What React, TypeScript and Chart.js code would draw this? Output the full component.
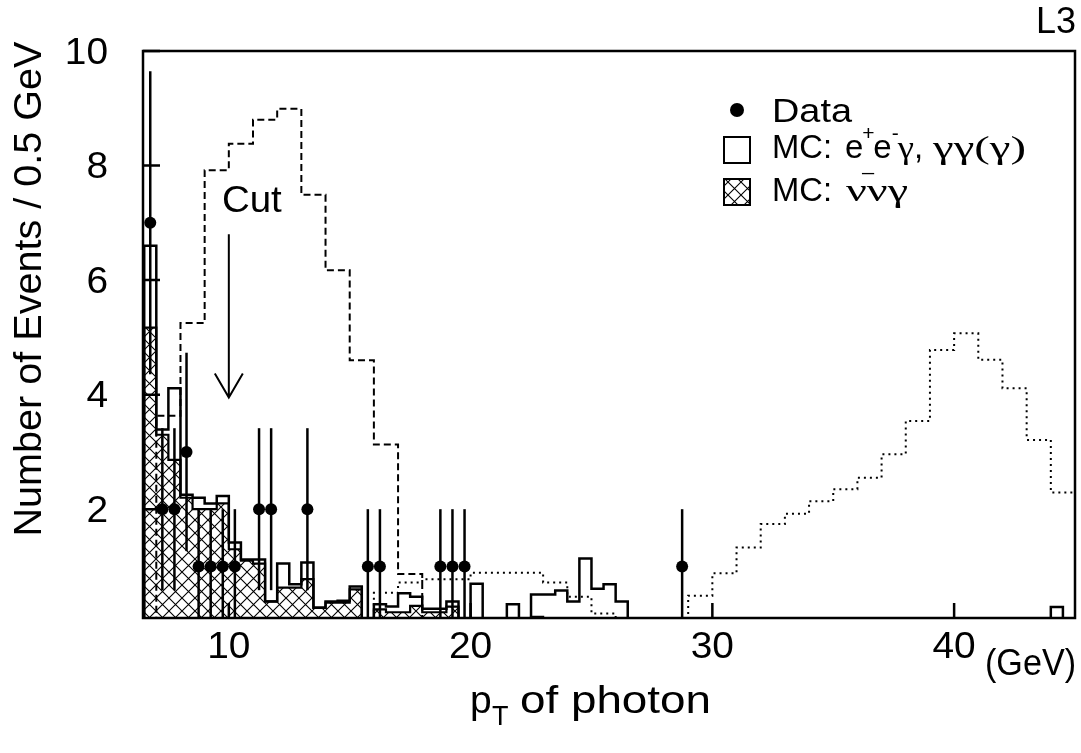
import React, { useEffect, useRef } from "react";
import { Chart, registerables } from "chart.js";

Chart.register(...registerables);

// ---------------- data ----------------
const X_MIN = 6.45;
const X_MAX = 45;
const Y_MIN = 0.1;
const Y_MAX = 10;

const xTickValues = [10, 20, 30, 40];
const yTickValues = [2, 4, 6, 8, 10];

// 0.5 GeV binning starting at 6.5 GeV
const fineStart = 6.5;
const fineWidth = 0.5;
// MC nu nu gamma (hatched)
const mcNuNuGamma = [
  5.17, 3.3, 2.86, 2.2, 2.0, 2.0, 2.1, 1.3, 1.1, 1.05,
  0.39, 0.63, 0.63, 0.78, 0.28, 0.37, 0.37, 0.6, 0, 0.25,
  0.2, 0.2, 0.31, 0.2, 0.2, 0.3, 0, 0, 0, 0,
  0, 0, 0.12, 0, 0, 0, 0, 0, 0, 0,
];
// MC e+e-gamma, gamma gamma(gamma) stacked on nu nu gamma (open)
const mcTotal = [
  6.6, 3.39, 4.11, 2.25, 2.2, 2.1, 2.23, 1.42, 1.12, 1.12,
  0.39, 1.05, 0.69, 1.07, 0.28, 0.39, 0.4, 0.65, 0, 0.34,
  0.3, 0.53, 0.47, 0.26, 0.26, 0.39, 0, 0.7, 0, 0,
  0.34, 0, 0.51, 0.51, 0.58, 0.39, 1.14, 0.61, 0.69, 0.39,
  0, 0, 0, 0, 0, 0, 0, 0, 0, 0,
  0, 0, 0, 0, 0, 0, 0, 0, 0, 0,
  0, 0, 0, 0, 0, 0, 0, 0, 0, 0,
  0, 0, 0, 0, 0, 0.29, 0,
];

// 1 GeV binning
const coarseWidth = 1;
const dashedStart = 7;
const dashedValues = [3.63, 5.25, 7.92, 8.38, 8.8, 8.99, 7.49, 6.17, 4.6, 3.13, 0.87];
const dottedStart = 16;
const dottedValues = [
  0.54, 0.72, 0.775, 0.775, 0.89, 0.89, 0.89, 0.72, 0.47, 0.18,
  0, 0, 0, 0.49, 0.88, 1.33, 1.74, 1.92, 2.14, 2.35,
  2.55, 2.96, 3.54, 4.78, 5.07, 4.61, 4.11, 3.21, 2.29,
];

// data points
const dataX = [6.75, 7.25, 7.75, 8.25, 8.75, 9.25, 9.75, 10.25, 11.25, 11.75, 13.25, 15.75, 16.25, 18.75, 19.25, 19.75, 28.75];
const dataN = [7, 2, 2, 3, 1, 1, 1, 1, 2, 2, 2, 1, 1, 1, 1, 1, 1];

const cutValue = 10;
const cutArrowTop = 6.8;
const cutArrowTip = 3.95;

// ---------------- helpers ----------------
const SANS = "'Liberation Sans', Arial, Helvetica, sans-serif";
const SERIF = "'Liberation Serif', 'Times New Roman', serif";

function histPoints(start: number, width: number, values: number[]) {
  const pts: { x: number; y: number }[] = [{ x: start, y: 0 }];
  values.forEach((v, i) => pts.push({ x: start + i * width, y: v }));
  pts.push({ x: start + values.length * width, y: 0 });
  return pts;
}

function makeHatch(): CanvasPattern | string {
  const p = 13;
  const c = document.createElement("canvas");
  c.width = p;
  c.height = p;
  const g = c.getContext("2d");
  if (!g) return "rgba(0,0,0,0.3)";
  g.fillStyle = "#fff";
  g.fillRect(0, 0, p, p);
  g.strokeStyle = "#000";
  g.lineWidth = 1.1;
  g.beginPath();
  g.moveTo(-2, -2);
  g.lineTo(p + 2, p + 2);
  g.moveTo(p + 2, -2);
  g.lineTo(-2, p + 2);
  g.stroke();
  const pat = g.createPattern(c, "repeat");
  return pat || "rgba(0,0,0,0.3)";
}

function txt(
  ctx: CanvasRenderingContext2D,
  s: string,
  x: number,
  y: number,
  font: string,
  align: "left" | "center" | "right",
  sx = 1,
  fitWidth = 0
) {
  ctx.save();
  ctx.font = font;
  ctx.textBaseline = "alphabetic";
  ctx.textAlign = "left";
  const raw = ctx.measureText(s).width;
  const k = fitWidth > 0 ? fitWidth / raw : sx;
  const w = raw * k;
  let x0 = x;
  if (align === "center") x0 = x - w / 2;
  else if (align === "right") x0 = x - w;
  ctx.translate(x0, y);
  ctx.scale(k, 1);
  ctx.fillStyle = "#000";
  ctx.fillText(s, 0, 0);
  ctx.restore();
  return w;
}

export default function App() {
  const ref = useRef<HTMLCanvasElement | null>(null);

  useEffect(() => {
    if (!ref.current) return;
    const hatch = makeHatch();

    const decor = {
      id: "decor",
      afterDatasetsDraw(chart: any) {
        const ctx: CanvasRenderingContext2D = chart.ctx;
        const xs = chart.scales.x;
        const ys = chart.scales.y;
        const a = chart.chartArea;
        ctx.save();
        // error bars
        ctx.strokeStyle = "#000";
        ctx.lineWidth = 2.5;
        dataX.forEach((x, i) => {
          const n = dataN[i];
          const e = Math.sqrt(n);
          const px = xs.getPixelForValue(x);
          const top = ys.getPixelForValue(n + e);
          const bot = Math.min(ys.getPixelForValue(Math.max(n - e, Y_MIN)), a.bottom);
          ctx.beginPath();
          ctx.moveTo(px, top);
          ctx.lineTo(px, bot);
          ctx.stroke();
        });
        ctx.restore();
      },
      afterDraw(chart: any) {
        const ctx: CanvasRenderingContext2D = chart.ctx;
        const xs = chart.scales.x;
        const ys = chart.scales.y;
        const a = chart.chartArea;
        ctx.save();
        // frame
        ctx.strokeStyle = "#000";
        ctx.lineWidth = 2.5;
        ctx.strokeRect(a.left, a.top, a.right - a.left, a.bottom - a.top);
        // inward ticks
        ctx.beginPath();
        xTickValues.forEach((v) => {
          const px = xs.getPixelForValue(v);
          ctx.moveTo(px, a.bottom);
          ctx.lineTo(px, a.bottom - 15);
        });
        yTickValues.forEach((v) => {
          const py = ys.getPixelForValue(v);
          ctx.moveTo(a.left, py);
          ctx.lineTo(a.left + 17, py);
        });
        ctx.stroke();

        const tickFont = `36px ${SANS}`;
        xTickValues.forEach((v) => {
          txt(ctx, String(v), xs.getPixelForValue(v), a.bottom + 40, tickFont, "center", 1.08);
        });
        yTickValues.forEach((v) => {
          txt(ctx, String(v), a.left - 35, ys.getPixelForValue(v) + 12.5, tickFont, "right", 1.08);
        });

        // axis titles
        const titleFont = `39px ${SANS}`;
        ctx.save();
        ctx.translate(41, 289);
        ctx.rotate(-Math.PI / 2);
        txt(ctx, "Number of Events / 0.5 GeV", 0, 0, titleFont, "center", 1, 495);
        ctx.restore();

        // p_T of photon
        txt(ctx, "p", 470, 713, titleFont, "left", 1);
        txt(ctx, "T", 492, 725, `27px ${SANS}`, "left", 1);
        txt(ctx, "of photon", 520, 713, titleFont, "left", 1, 191);

        txt(ctx, "(GeV)", 1076, 675, `36px ${SANS}`, "right", 1, 91);
        txt(ctx, "L3", 1076, 33, `36px ${SANS}`, "right", 1);

        // Cut arrow
        const cx = xs.getPixelForValue(cutValue);
        const ct = ys.getPixelForValue(cutArrowTop);
        const cb = ys.getPixelForValue(cutArrowTip);
        ctx.lineWidth = 2;
        ctx.beginPath();
        ctx.moveTo(cx, ct);
        ctx.lineTo(cx, cb);
        ctx.moveTo(cx - 14, cb - 24);
        ctx.lineTo(cx, cb);
        ctx.lineTo(cx + 14, cb - 24);
        ctx.stroke();
        txt(ctx, "Cut", cx + 23, 212, `37px ${SANS}`, "center", 1.04);

        // legend
        const lf = `33px ${SANS}`;
        const small = `21px ${SANS}`;
        const greek = `32px ${SERIF}`;
        const tx = 772;
        // Data
        ctx.fillStyle = "#000";
        ctx.beginPath();
        ctx.arc(737, 110, 7, 0, Math.PI * 2);
        ctx.fill();
        txt(ctx, "Data", tx, 122, lf, "left", 1, 80);
        // MC ee
        ctx.lineWidth = 2;
        ctx.strokeRect(724, 137, 26, 26);
        const b2 = 158;
        txt(ctx, "MC:", tx, b2, lf, "left", 1, 60);
        let lx = 845;
        lx += txt(ctx, "e", lx, b2, lf, "left", 1);
        txt(ctx, "+", lx - 1, b2 - 18, small, "left", 1);
        txt(ctx, "_", lx - 1, b2 + 12, small, "left", 1);
        lx += 10;
        lx += txt(ctx, "e", lx, b2, lf, "left", 1);
        txt(ctx, "-", lx, b2 - 18, small, "left", 1);
        lx += 6;
        lx += txt(ctx, "\u03b3", lx, b2, greek, "left", 1.15);
        txt(ctx, ",", lx, b2, lf, "left", 1);
        txt(ctx, "\u03b3\u03b3(\u03b3)", 933, b2, greek, "left", 1, 93);
        // MC nunu
        ctx.fillStyle = hatch as any;
        ctx.fillRect(724, 179, 26, 26);
        ctx.strokeRect(724, 179, 26, 26);
        txt(ctx, "MC:", tx, 201, lf, "left", 1, 60);
        txt(ctx, "\u03bd\u03bd\u03b3", 846, 201, greek, "left", 1, 62);

        ctx.restore();
      },
    };

    const chart = new Chart(ref.current, {
      type: "line",
      data: {
        datasets: [
          {
            label: "MC: nu nu gamma",
            data: histPoints(fineStart, fineWidth, mcNuNuGamma),
            stepped: true,
            borderColor: "#000",
            borderWidth: 2.2,
            backgroundColor: hatch as any,
            fill: "origin",
            pointRadius: 0,
            order: 5,
          },
          {
            label: "MC: e+e- gamma, gamma gamma (gamma)",
            data: histPoints(fineStart, fineWidth, mcTotal),
            stepped: true,
            borderColor: "#000",
            borderWidth: 2.5,
            fill: false,
            pointRadius: 0,
            order: 4,
          },
          {
            label: "dashed",
            data: histPoints(dashedStart, coarseWidth, dashedValues),
            stepped: true,
            borderColor: "#000",
            borderWidth: 2,
            borderDash: [7, 4],
            fill: false,
            pointRadius: 0,
            order: 3,
          },
          {
            label: "dotted",
            data: histPoints(dottedStart, coarseWidth, dottedValues),
            stepped: true,
            borderColor: "#000",
            borderWidth: 2,
            borderDash: [2, 4],
            fill: false,
            pointRadius: 0,
            order: 2,
          },
          {
            label: "Data",
            data: dataX.map((x, i) => ({ x, y: dataN[i] })),
            showLine: false,
            pointRadius: 6,
            pointBackgroundColor: "#000",
            pointBorderWidth: 0,
            order: 1,
          },
        ],
      },
      options: {
        animation: false,
        responsive: true,
        maintainAspectRatio: false,
        layout: { padding: { left: 143, right: 3, top: 51, bottom: 135 } },
        plugins: { legend: { display: false }, tooltip: { enabled: false }, title: { display: false } },
        scales: {
          x: { type: "linear", min: X_MIN, max: X_MAX, display: false },
          y: { type: "linear", min: Y_MIN, max: Y_MAX, display: false },
        },
      },
      plugins: [decor],
    } as any);

    return () => chart.destroy();
  }, []);

  return (
    <div style={{ position: "fixed", left: 0, top: 0, width: 1081, height: 753, background: "#fff" }}>
      <canvas ref={ref} />
    </div>
  );
}
